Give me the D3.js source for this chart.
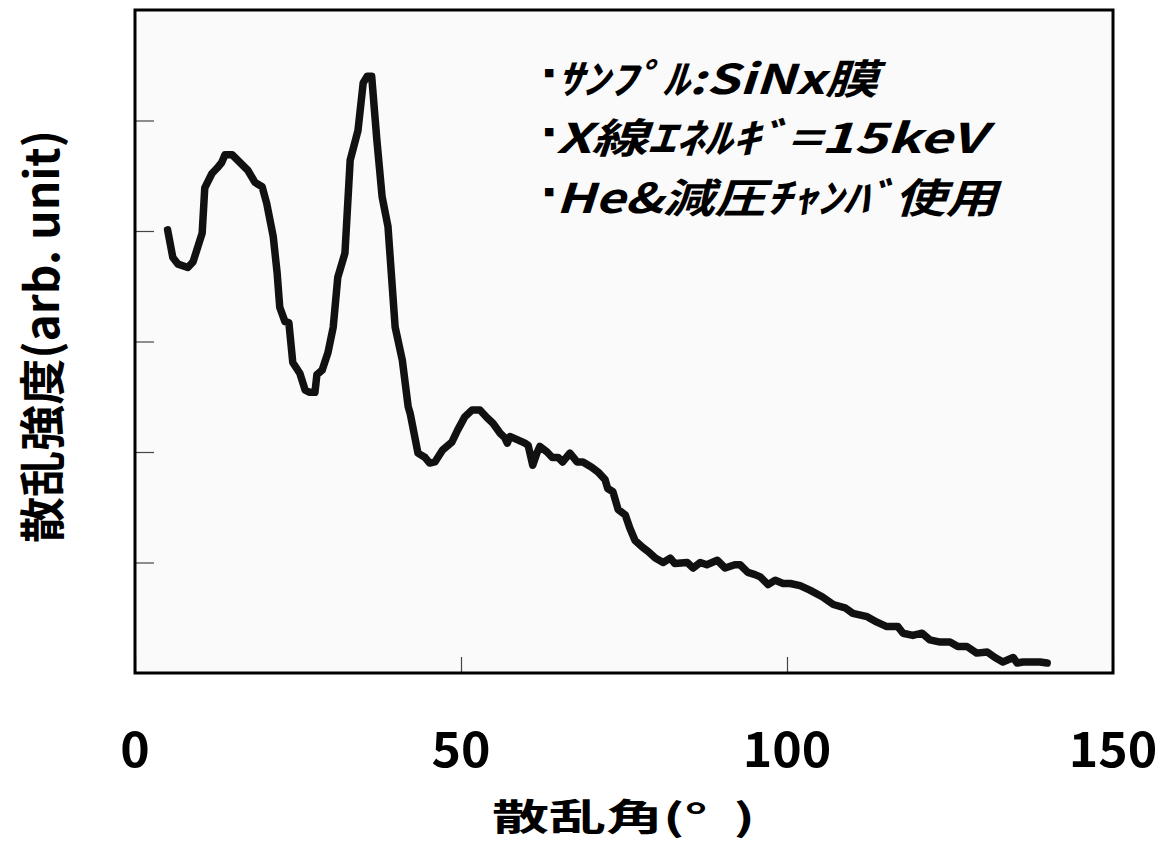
<!DOCTYPE html>
<html>
<head>
<meta charset="utf-8">
<script src="https://cdn.jsdelivr.net/npm/d3@7/dist/d3.min.js"></script>
<style>
  html, body { margin: 0; padding: 0; background: #ffffff; }
  svg { display: block; }
  text { font-family: "Noto Sans CJK JP", "Noto Sans", sans-serif; fill: #000; }
</style>
</head>
<body>
<svg id="chart" width="1160" height="850"></svg>
<script>
// ---- data ----
const angle = [5.0, 5.8, 6.6, 8.1, 8.9, 10.3, 10.7, 11.8, 12.6, 13.3, 13.8, 14.9, 16.1, 17.3, 18.4, 19.5, 20.2, 21.2, 21.8, 22.2,
  23.0, 23.6, 24.2, 25.3, 26.1, 26.8, 27.6, 27.9, 28.7, 29.6, 30.4, 31.1, 32.2, 33.0, 34.2, 35.0, 35.6, 36.3, 37.1, 37.9,
  38.8, 39.9, 41.0, 41.9, 42.2, 43.4, 44.5, 45.2, 46.0, 47.2, 48.6, 49.5, 50.6, 51.7, 52.9, 54.0, 54.9, 56.0, 56.7, 57.1,
  57.5, 58.7, 59.8, 60.3, 61.0, 61.7, 62.1, 63.2, 64.0, 64.9, 65.6, 66.7, 67.8, 68.7, 70.1, 71.0, 72.1, 72.5, 73.3, 74.1,
  75.2, 75.9, 76.7, 77.8, 78.7, 79.8, 81.0, 82.1, 82.8, 84.7, 85.6, 86.7, 87.7, 89.3, 90.5, 92.0, 92.8, 94.0, 95.1, 95.9,
  97.1, 98.2, 99.4, 100.5, 102.0, 103.5, 105.4, 107.1, 108.9, 110.1, 112.3, 113.8, 115.3, 117.0, 117.8, 119.3, 120.7, 121.9, 123.5, 125.0,
  126.2, 127.6, 129.1, 130.7, 131.9, 133.1, 134.7, 135.3, 136.2, 138.8, 139.9];
const intensity = [4.01, 3.76, 3.70, 3.67, 3.72, 3.98, 4.39, 4.52, 4.57, 4.62, 4.69, 4.69, 4.62, 4.55, 4.44, 4.40, 4.25, 3.95, 3.62, 3.31,
  3.18, 3.17, 2.81, 2.71, 2.56, 2.54, 2.54, 2.70, 2.74, 2.90, 3.13, 3.58, 3.80, 4.64, 4.91, 5.34, 5.40, 5.40, 4.82, 4.31,
  4.04, 3.13, 2.83, 2.41, 2.35, 1.99, 1.95, 1.90, 1.91, 2.02, 2.09, 2.20, 2.32, 2.38, 2.38, 2.31, 2.26, 2.17, 2.13, 2.08,
  2.14, 2.11, 2.08, 2.06, 1.88, 2.00, 2.05, 2.00, 1.95, 1.95, 1.91, 1.99, 1.91, 1.91, 1.86, 1.82, 1.75, 1.67, 1.64, 1.48,
  1.43, 1.31, 1.20, 1.14, 1.10, 1.04, 1.00, 1.04, 0.99, 1.00, 0.95, 1.00, 0.98, 1.02, 0.95, 0.98, 0.98, 0.91, 0.89, 0.87,
  0.80, 0.84, 0.81, 0.81, 0.79, 0.75, 0.69, 0.62, 0.59, 0.54, 0.51, 0.46, 0.42, 0.42, 0.36, 0.34, 0.36, 0.30, 0.28, 0.28,
  0.24, 0.24, 0.18, 0.19, 0.14, 0.10, 0.14, 0.09, 0.10, 0.10, 0.09];
const xTickValues = [0, 50, 100, 150];
const yTickValues = [1, 2, 3, 4, 5];
const xDomain = [0, 150];
const yDomain = [0, 6];
const xTitle = "散乱角(°  )";
const yTitle = "散乱強度(arb. unit)";
const noteBullet = "■";
const notes = ["ｻﾝﾌﾟﾙ:SiNx膜", "X線ｴﾈﾙｷﾞ=15keV", "He&減圧ﾁｬﾝﾊﾞ使用"];

// ---- layout ----
const svg = d3.select("#chart");
const L = 135, R = 1113, T = 10, B = 673;
const x = d3.scaleLinear().domain(xDomain).range([L, R]);
const y = d3.scaleLinear().domain(yDomain).range([B, T]);

// plot background
svg.append("rect").attr("x", L).attr("y", T).attr("width", R - L).attr("height", B - T)
  .attr("fill", "#fafafa");

// y ticks (inside, no labels)
const yAxis = d3.axisRight(y).tickValues(yTickValues).tickSize(19).tickFormat("");
const gy = svg.append("g").attr("transform", `translate(${L},0)`).call(yAxis);
gy.select(".domain").remove();
gy.selectAll(".tick line").attr("stroke", "#444").attr("stroke-width", 1.2);

// x ticks (inside) + labels
const xAxis = d3.axisTop(x).tickValues(xTickValues).tickSize(16).tickFormat("");
const gx = svg.append("g").attr("transform", `translate(0,${B})`).call(xAxis);
gx.select(".domain").remove();
gx.selectAll(".tick line").attr("stroke", "#444").attr("stroke-width", 1.2);

svg.append("g").selectAll("text.xl").data(xTickValues).join("text")
  .attr("class", "xl")
  .attr("x", d => x(d)).attr("y", 767)
  .attr("text-anchor", "middle")
  .attr("font-size", 48).attr("font-weight", "bold")
  .attr("textLength", d => String(d).length * 29.5)
  .attr("lengthAdjust", "spacingAndGlyphs")
  .text(d => d);

// frame
svg.append("rect").attr("x", L).attr("y", T).attr("width", R - L).attr("height", B - T)
  .attr("fill", "none").attr("stroke", "#000").attr("stroke-width", 3);

// curve
const pts = angle.map((a, i) => [a, intensity[i]]);
svg.append("path").datum(pts)
  .attr("fill", "none").attr("stroke", "#111").attr("stroke-width", 7.5)
  .attr("stroke-linejoin", "round").attr("stroke-linecap", "round")
  .attr("d", d3.line().x(d => x(d[0])).y(d => y(d[1])));

// axis titles
svg.append("text").attr("x", 492).attr("y", 831)
  .attr("font-size", 37).attr("font-weight", "bold")
  .attr("textLength", 263).attr("lengthAdjust", "spacingAndGlyphs")
  .style("white-space", "pre")
  .text(xTitle);

svg.append("text").attr("transform", "translate(59,543) rotate(-90)")
  .attr("font-size", 46).attr("font-weight", "bold")
  .attr("textLength", 413).attr("lengthAdjust", "spacingAndGlyphs")
  .text(yTitle);

// notes: bullet + text in one text element
const noteBase = [93.5, 153, 212.5];
const noteLen = [322, 429, 441];
notes.forEach((t, i) => {
  const tx = svg.append("text").attr("x", 544).attr("y", noteBase[i]);
  tx.append("tspan")
    .attr("font-family", "DejaVu Sans").attr("font-size", 11)
    .attr("dy", -18)
    .text(noteBullet);
  tx.append("tspan")
    .attr("x", 556).attr("dy", 18)
    .attr("font-size", 41).attr("font-weight", "bold").attr("font-style", "italic")
    .attr("textLength", noteLen[i]).attr("lengthAdjust", "spacingAndGlyphs")
    .text(t);
});
</script>
</body>
</html>
